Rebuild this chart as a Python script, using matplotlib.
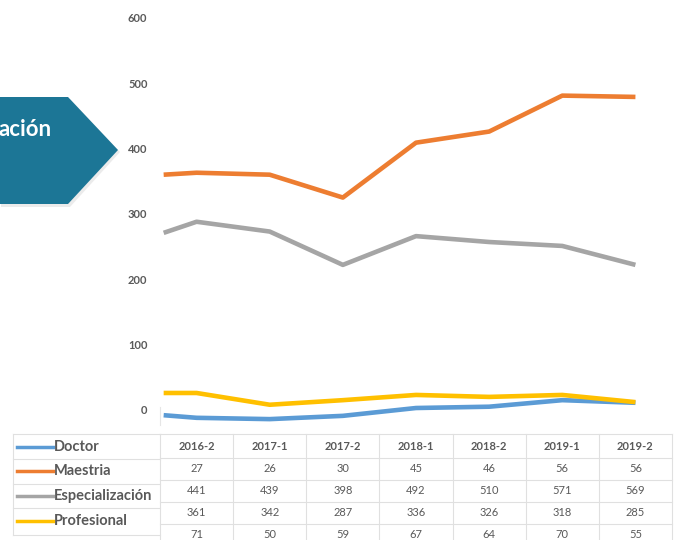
import numpy as np
import matplotlib
matplotlib.use("Agg")
import matplotlib.pyplot as plt
from matplotlib.patches import Polygon

plt.rcParams['font.family'] = ['Lato', 'DejaVu Sans']

periodos = ["2016-2", "2017-1", "2017-2", "2018-1", "2018-2", "2019-1", "2019-2"]
series = ["Doctor", "Maestria", "Especialización", "Profesional"]
colores = ["#5B9BD5", "#ED7D31", "#A5A5A5", "#FFC000"]

doctor_linea = [-8, -12, -14, -9, 3, 5, 15, 11]
maestria_linea = [360, 363, 360, 325, 409, 426, 481, 479]
espec_linea = [271, 288, 273, 222, 266, 257, 251, 222]
profesional_linea = [26, 26, 8, 15, 23, 20, 23, 12]
lineas = [doctor_linea, maestria_linea, espec_linea, profesional_linea]

# valores de la tabla de datos
fila1 = [27, 26, 30, 45, 46, 56, 56]
fila2 = [441, 439, 398, 492, 510, 571, 569]
fila3 = [361, 342, 287, 336, 326, 318, 285]
fila4 = [71, 50, 59, 67, 64, 70, 55]
filas = [fila1, fila2, fila3, fila4]

W, H = 676, 540
fig = plt.figure(figsize=(W / 100, H / 100), dpi=100)


def caja(x0, y0, x1, y1):
    return [x0 / W, 1 - y1 / H, (x1 - x0) / W, (y1 - y0) / H]


# grafico de lineas
ax = fig.add_axes(caja(160, 10, 672, 425))
x = np.r_[-0.45, np.arange(len(periodos))]
for vals, c in zip(lineas, colores):
    ax.plot(x, vals, color=c, lw=3.3, solid_capstyle="butt", solid_joinstyle="round")
ax.set_xlim(-0.5, len(periodos) - 0.5)
ax.set_ylim(-23, 612)
ax.set_yticks(range(0, 601, 100))
ax.set_xticks([])
ax.tick_params(axis="y", length=0, pad=9, labelsize=8, labelcolor="#595959")
for t in ax.get_yticklabels():
    t.set_fontweight("bold")
for s in ax.spines.values():
    s.set_visible(False)
ax.plot([-0.5, -0.5], [-23, 5], color="#E6E6E6", lw=0.8, clip_on=False)

# tabla de datos
tx = fig.add_axes(caja(0, 420, 676, 540))
sp = 512 / 7
left = -0.5 - 160 / sp
tx.set_xlim(left, left + W / sp)
tx.set_ylim(540, 420)
tx.axis("off")
gris = "#E0E0E0"
for yy in [434, 458, 480, 502, 524]:
    tx.plot([-0.5, 6.5], [yy, yy], color=gris, lw=0.8)
for i in range(len(periodos) + 1):
    tx.plot([i - 0.5, i - 0.5], [434, 540], color=gris, lw=0.8)
for i, p in enumerate(periodos):
    tx.text(i, 447, p, ha="center", va="center", fontsize=8, color="#595959", fontweight="bold")
for r, (fila, yy) in enumerate(zip(filas, [468, 491, 513, 534])):
    for i, v in enumerate(fila):
        tx.text(i, yy, str(v), ha="center", va="center", fontsize=8, color="#595959")

# leyenda
lx0 = left + 13 / sp
tx.plot([lx0, -0.5], [434, 434], color=gris, lw=0.8)
for yy in [459, 484, 508, 535]:
    tx.plot([lx0, -0.5], [yy, yy], color=gris, lw=0.8)
tx.plot([lx0, lx0], [434, 535], color=gris, lw=0.8)
for nombre, c, yy in zip(series, colores, [447, 471, 496, 521]):
    tx.plot([left + 17 / sp, left + 53 / sp], [yy, yy], color=c, lw=2.5)
    tx.text(left + 54 / sp, yy, nombre, ha="left", va="center", fontsize=10.5,
            color="#595959", fontweight="bold")

# forma azul a la izquierda
sombra = Polygon([(1 / W, 1 - 99 / H), (70 / W, 1 - 99 / H), (120 / W, 1 - 152 / H),
                  (70 / W, 1 - 207 / H), (1 / W, 1 - 207 / H)],
                 closed=True, transform=fig.transFigure, facecolor="#C8C8C8", alpha=0.35,
                 edgecolor="none")
fig.patches.append(sombra)
forma = Polygon([(0, 1 - 97 / H), (68 / W, 1 - 97 / H), (118 / W, 1 - 150 / H),
                 (68 / W, 1 - 204 / H), (0, 1 - 204 / H)],
                closed=True, transform=fig.transFigure, facecolor="#1C7696", edgecolor="none")
fig.patches.append(forma)
fig.text(52 / W, 1 - 129 / H, "ación", ha="right", va="center", fontsize=16,
         color="white", fontweight="bold")

fig.savefig("out.png", dpi=100)
